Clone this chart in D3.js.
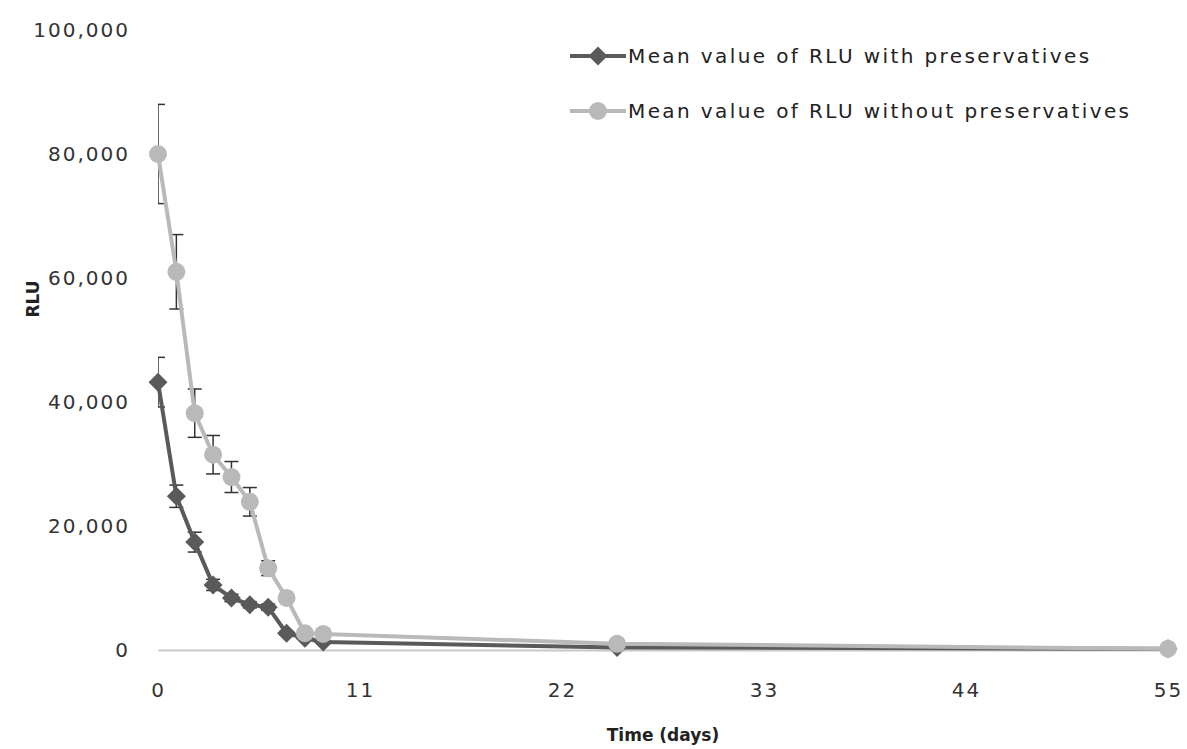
<!DOCTYPE html>
<html>
<head>
<meta charset="utf-8">
<script src="https://cdn.jsdelivr.net/npm/d3@7"></script>
<style>
  body { margin: 0; background: #fff; }
  text { font-family: "DejaVu Sans", Verdana, sans-serif; }
</style>
</head>
<body>
<div id="canvas"></div>
<script>
const days = [0, 1, 2, 3, 4, 5, 6, 7, 8, 9, 25, 55];
const withPres = [43200, 24800, 17400, 10500, 8400, 7300, 6900, 2700, 1900, 1300, 400, 200];
const withErr = [4000, 1800, 1600, 900, 600, 500, 500, 300, 200, 200, 100, 50];
const withoutPres = [80000, 61000, 38200, 31500, 27900, 23900, 13200, 8400, 2700, 2600, 1000, 200];
const withoutErr = [8000, 6000, 3900, 3100, 2500, 2300, 1200, 600, 300, 300, 100, 50];
const xTicks = [0, 11, 22, 33, 44, 55];
const yTicks = [0, 20000, 40000, 60000, 80000, 100000];
const seriesNames = ["Mean value of RLU with preservatives", "Mean value of RLU without preservatives"];

const width = 1187;
const height = 749;
const margin = { top: 30, left: 158, bottom: 99, right: 19 };
const iwidth = width - margin.left - margin.right;
const iheight = height - margin.top - margin.bottom;

const svg = d3.select("#canvas").append("svg")
  .attr("width", width)
  .attr("height", height);

const g = svg.append("g")
  .attr("transform", `translate(${margin.left},${margin.top})`);

const x = d3.scaleLinear().domain([0, 55]).range([0, iwidth]);
const y = d3.scaleLinear().domain([0, 100000]).range([iheight, 0]);

// axes
const xAxis = g.append("g")
  .attr("transform", `translate(0,${iheight})`)
  .call(d3.axisBottom(x).tickValues(xTicks).tickSize(0).tickPadding(33));
xAxis.select(".domain").attr("stroke", "#c8c8c8").attr("stroke-width", 2);
xAxis.selectAll("text").attr("font-size", 20).attr("letter-spacing", 2).attr("fill", "#333");

const yAxis = g.append("g")
  .call(d3.axisLeft(y).tickValues(yTicks).tickFormat(d3.format(",")).tickSize(0).tickPadding(28));
yAxis.select(".domain").remove();
yAxis.selectAll("text").attr("font-size", 20).attr("letter-spacing", 2).attr("fill", "#333");

svg.append("text")
  .attr("x", 663).attr("y", 741)
  .attr("text-anchor", "middle")
  .attr("font-size", 17).attr("font-weight", "bold").attr("fill", "#222")
  .text("Time (days)");

svg.append("text")
  .attr("transform", "translate(39,299) rotate(-90)")
  .attr("text-anchor", "middle")
  .attr("font-size", 17).attr("font-weight", "bold").attr("fill", "#222")
  .text("RLU");

svg.append("clipPath").attr("id", "plotclip")
  .append("rect").attr("x", 0).attr("y", -20).attr("width", iwidth + 20).attr("height", iheight + 40);

const series = [
  { name: seriesNames[0], values: withPres, err: withErr, color: "#5a5a5a", shape: "diamond" },
  { name: seriesNames[1], values: withoutPres, err: withoutErr, color: "#b9b9b9", shape: "circle" }
];

const line = d3.line().x((d) => x(d[0])).y((d) => y(d[1]));
const diamond = d3.symbol().type(d3.symbolDiamond2).size(230);

function drawMarker(sel, s) {
  if (s.shape === "circle") {
    sel.append("circle").attr("r", 9).attr("fill", s.color);
  } else {
    sel.append("path").attr("d", diamond).attr("fill", s.color);
  }
}

series.forEach((s) => {
  const pts = days.map((d, i) => [d, s.values[i], s.err[i]]);
  const eb = g.append("g").attr("clip-path", "url(#plotclip)")
    .attr("stroke", "#333").attr("stroke-width", 1.5).attr("fill", "none");
  pts.forEach((p) => {
    const cx = x(p[0]);
    const top = y(p[1] + p[2]);
    const bot = y(Math.max(0, p[1] - p[2]));
    eb.append("line").attr("x1", cx).attr("x2", cx).attr("y1", top).attr("y2", bot);
    eb.append("line").attr("x1", cx - 7).attr("x2", cx + 7).attr("y1", top).attr("y2", top);
    eb.append("line").attr("x1", cx - 7).attr("x2", cx + 7).attr("y1", bot).attr("y2", bot);
  });
  g.append("path").datum(pts)
    .attr("d", line)
    .attr("fill", "none")
    .attr("stroke", s.color)
    .attr("stroke-width", 4);
  g.selectAll(null).data(pts).enter().append("g")
    .attr("transform", (d) => `translate(${x(d[0])},${y(d[1])})`)
    .each(function () { drawMarker(d3.select(this), s); });
});

// legend
const legend = svg.append("g").attr("transform", "translate(570,56)");
series.forEach((s, i) => {
  const row = legend.append("g").attr("transform", `translate(0,${i * 55})`);
  row.append("line").attr("x1", 0).attr("x2", 56).attr("y1", 0).attr("y2", 0)
    .attr("stroke", s.color).attr("stroke-width", 4);
  drawMarker(row.append("g").attr("transform", "translate(28,0)"), s);
  row.append("text").attr("x", 58).attr("y", 7)
    .attr("font-size", 20).attr("letter-spacing", 2.4).attr("fill", "#222")
    .text(s.name);
});
</script>
</body>
</html>
